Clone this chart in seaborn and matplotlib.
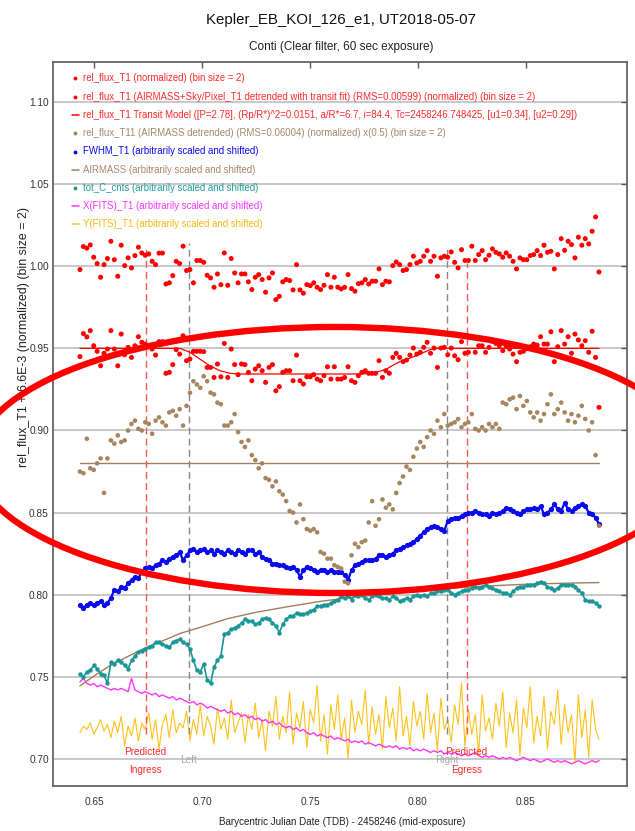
import numpy as np
import matplotlib
matplotlib.use("Agg")
import matplotlib.pyplot as plt
from matplotlib import font_manager
from matplotlib.patches import Ellipse
import seaborn as sns

# ---------------- data ----------------
n_obs = 152
t_obs = np.linspace(0.6435, 0.8838, n_obs)   # binned exposure mid-times (BJD - 2458246)

rel_flux_norm = [
    0.998, 1.012, 1.011,
    1.013, 1.0055, 1.0016, 0.9933, 1.001, 1.0047, 1.0152, 1.004, 0.9939, 1.0128,
    1.0004, 1.0051, 0.999, 1.0065, 1.0116, 1.0081, 1.0067, 1.0075, 1.003, 1.001,
    1.008, 1.008, 0.9892, 0.9899, 0.9943, 1.003, 1.0016, 1.0122, 0.9974, 0.998,
    0.9899, 1.0035, 1.0035, 1.0024, 0.9945, 0.9929, 0.9872, 0.9953, 0.9888, 1.0081,
    0.9884, 1.0047, 0.9959, 0.9899, 0.9953, 0.9953, 0.9905, 0.9858, 0.9933, 0.9949,
    0.9919, 0.9842, 0.9929, 0.9959, 0.9797, 0.9817, 0.9905, 0.9919, 0.9913, 0.9856,
    1.001, 0.9856, 0.9836, 0.9888, 0.9882, 0.9899, 0.9872, 0.9858, 0.9884, 0.9949,
    0.9872, 0.9933, 0.9872, 0.9862, 0.9872, 0.9949, 0.9864, 0.9848, 0.9894, 0.9899,
    0.9919,
    0.9892, 0.9909, 0.9909, 0.9984, 0.9888, 0.9909, 0.9905, 1.0004, 1.0026, 1.001,
    0.9974, 0.998, 1.001, 1.0061, 1.002, 1.003, 1.0061, 1.0095, 1.003, 1.0061,
    0.9939, 1.0051, 1.0061, 1.0055, 1.0087, 1.0024, 0.999, 1.0101, 1.0035, 1.0035,
    1.0122, 1.0035, 1.0071, 1.0095, 1.004, 1.0067, 1.0106, 1.0085, 1.0075, 1.0055,
    1.0081, 1.0061, 1.003, 0.9984, 1.0051, 1.004, 1.004, 1.0065, 1.0071, 1.0095,
    1.0065, 1.0128, 1.0085, 1.0091, 0.9984, 1.0071, 1.0168, 1.0097, 1.0152, 1.0132,
    1.0051, 1.0177, 1.0128, 1.0168, 1.0136, 1.0213, 1.030, 0.9965,
]

rel_flux_detrended = [
    0.945, 0.959, 0.957,
    0.9608, 0.9516, 0.9482, 0.9394, 0.947, 0.9496, 0.9608, 0.9496, 0.9394, 0.9587,
    0.9461, 0.9506, 0.9445, 0.9516, 0.9571, 0.9537, 0.9526, 0.9516, 0.9496, 0.9459,
    0.9541, 0.9541, 0.9348, 0.9354, 0.9401, 0.9492, 0.9465, 0.9577, 0.9425, 0.9435,
    0.9482, 0.9482, 0.9482, 0.948, 0.9384, 0.9384, 0.9323, 0.9405, 0.9327, 0.953,
    0.9323, 0.9496, 0.9401, 0.934, 0.9405, 0.9401, 0.9354, 0.9303, 0.9374, 0.9394,
    0.9364, 0.9293, 0.9384, 0.9401, 0.9242, 0.9267, 0.9354, 0.9364, 0.9364, 0.9303,
    0.9459, 0.9303, 0.9283, 0.9327, 0.9327, 0.934, 0.9313, 0.9303, 0.9334, 0.9388,
    0.9313, 0.9388, 0.9313, 0.9313, 0.9323, 0.9388, 0.9303, 0.9293, 0.9334, 0.9354,
    0.9364,
    0.9348, 0.9348, 0.9348, 0.9425, 0.9323, 0.9364, 0.9348, 0.9445, 0.947, 0.9445,
    0.9419, 0.9429, 0.9459, 0.9502, 0.9465, 0.9476, 0.9506, 0.9537, 0.947, 0.9502,
    0.9384, 0.9502, 0.9506, 0.9461, 0.9502, 0.9455, 0.9431, 0.9541, 0.947, 0.9476,
    0.9567, 0.9476, 0.9516, 0.9516, 0.9476, 0.9506, 0.9543, 0.953, 0.9516, 0.9486,
    0.9516, 0.9496, 0.9465, 0.9419, 0.9476, 0.9482, 0.95, 0.951, 0.9526, 0.952,
    0.9571, 0.9526, 0.9526, 0.9601, 0.9419, 0.951, 0.9608, 0.9526, 0.9571, 0.947,
    0.9587, 0.9551, 0.9516, 0.9547, 0.9476, 0.9604, 0.9445, 0.9141,
]

# transit model (value at model nodes)
t_model = [0.6435, 0.6898, 0.6944, 0.6990, 0.7037, 0.7083, 0.7130, 0.7175,
           0.7731, 0.7793, 0.7854, 0.7885, 0.7916, 0.7962, 0.8009, 0.8055,
           0.8086, 0.8838]
transit_model = [0.9500, 0.9500, 0.9476, 0.9435, 0.9394, 0.9364, 0.9348, 0.9344,
                 0.9344, 0.9348, 0.9374, 0.9398, 0.9419, 0.9440, 0.9465, 0.9492,
                 0.9500, 0.9500]

rel_flux_T11 = [
    0.875, 0.874, 0.895, 0.877, 0.876, 0.880, 0.883, 0.862, 0.883, 0.894,
    0.892, 0.897, 0.893, 0.894, 0.900, 0.904, 0.906, 0.901, 0.900, 0.905,
    0.904, 0.898, 0.906, 0.908, 0.905, 0.903, 0.911, 0.912, 0.909, 0.913,
    0.903, 0.915, 0.923, 0.930, 0.928, 0.926, 0.933, 0.930, 0.923, 0.922,
    0.917, 0.916, 0.903, 0.903, 0.905, 0.910, 0.899, 0.893, 0.890, 0.894,
    0.885, 0.882, 0.877, 0.880, 0.871, 0.870, 0.866, 0.869, 0.863, 0.861,
    0.857, 0.851, 0.850, 0.844, 0.855, 0.846, 0.840, 0.839, 0.840, 0.838,
    0.826, 0.825, 0.822, 0.822, 0.818, 0.817, 0.816, 0.808, 0.807, 0.824,
    0.831, 0.829, 0.832, 0.833, 0.844, 0.857, 0.842, 0.846, 0.858, 0.853,
    0.855, 0.852, 0.862, 0.868, 0.872, 0.878, 0.876, 0.884, 0.889, 0.893,
    0.890, 0.896, 0.900, 0.898, 0.906, 0.902, 0.910, 0.903, 0.904, 0.905,
    0.907, 0.902, 0.904, 0.905, 0.910, 0.901, 0.900, 0.902, 0.900, 0.904,
    0.902, 0.904, 0.901, 0.917, 0.916, 0.919, 0.920, 0.913, 0.921, 0.915,
    0.918, 0.911, 0.908, 0.911, 0.906, 0.910, 0.916, 0.922, 0.910, 0.913,
    0.917, 0.911, 0.906, 0.910, 0.905, 0.909, 0.915, 0.907, 0.900, 0.905,
    0.885, 0.842,
]
t11_baseline = 0.88

fwhm = [
    0.794, 0.792, 0.794, 0.795, 0.794, 0.795, 0.796, 0.794, 0.795, 0.798,
    0.803, 0.802, 0.805, 0.804, 0.807, 0.809, 0.811, 0.810, 0.814, 0.816,
    0.817, 0.816, 0.818, 0.819, 0.821, 0.820, 0.822, 0.823, 0.824, 0.826,
    0.821, 0.824, 0.827, 0.828, 0.826, 0.827, 0.828, 0.826, 0.827, 0.825,
    0.827, 0.826, 0.825, 0.827, 0.826, 0.825, 0.827, 0.826, 0.825, 0.827,
    0.827, 0.825, 0.826, 0.823, 0.822, 0.821, 0.819, 0.819, 0.818, 0.818,
    0.817, 0.816, 0.817, 0.815, 0.811, 0.815, 0.817, 0.816, 0.815, 0.814,
    0.815, 0.815, 0.814, 0.815, 0.814, 0.814, 0.814, 0.812, 0.809, 0.815,
    0.818, 0.819, 0.820, 0.821, 0.821, 0.821, 0.822, 0.824, 0.824, 0.823,
    0.824, 0.825, 0.827, 0.828, 0.829, 0.830, 0.831, 0.832, 0.834, 0.836,
    0.838, 0.840, 0.841, 0.842, 0.841, 0.840, 0.839, 0.845, 0.846, 0.847,
    0.847, 0.848, 0.849, 0.850, 0.850, 0.851, 0.850, 0.849, 0.849, 0.848,
    0.850, 0.849, 0.850, 0.851, 0.853, 0.852, 0.851, 0.850, 0.849, 0.851,
    0.852, 0.852, 0.853, 0.852, 0.854, 0.849, 0.850, 0.852, 0.855, 0.852,
    0.851, 0.856, 0.852, 0.851, 0.853, 0.854, 0.855, 0.854, 0.850, 0.849,
    0.847, 0.843,
]

t_airmass = [0.6435, 0.650, 0.657, 0.665, 0.673, 0.681, 0.690, 0.700, 0.712, 0.725,
             0.740, 0.755, 0.770, 0.790, 0.810, 0.830, 0.850, 0.870, 0.8838]
airmass = [0.7445, 0.7505, 0.7565, 0.7620, 0.7672, 0.7715, 0.7765, 0.7805, 0.7855, 0.7893,
           0.7928, 0.7960, 0.7985, 0.8010, 0.8035, 0.8052, 0.8064, 0.8071, 0.8074]

tot_c_cnts = [
    0.752, 0.750, 0.753, 0.754, 0.757, 0.755, 0.752, 0.751, 0.746, 0.759,
    0.758, 0.760, 0.759, 0.757, 0.755, 0.760, 0.763, 0.765, 0.766, 0.767,
    0.768, 0.769, 0.771, 0.771, 0.770, 0.769, 0.768, 0.771, 0.772, 0.773,
    0.771, 0.770, 0.767, 0.760, 0.754, 0.753, 0.758, 0.748, 0.746, 0.756,
    0.760, 0.763, 0.776, 0.777, 0.779, 0.780, 0.781, 0.783, 0.785, 0.784,
    0.784, 0.782, 0.783, 0.785, 0.786, 0.785, 0.783, 0.781, 0.777, 0.782,
    0.785, 0.787, 0.787, 0.789, 0.788, 0.788, 0.789, 0.790, 0.791, 0.793,
    0.793, 0.794, 0.794, 0.795, 0.796, 0.797, 0.799, 0.798, 0.799, 0.797,
    0.800, 0.799, 0.800, 0.798, 0.797, 0.799, 0.800, 0.799, 0.798, 0.798,
    0.797, 0.799, 0.798, 0.796, 0.797, 0.798, 0.797, 0.799, 0.800, 0.799,
    0.800, 0.799, 0.801, 0.801, 0.802, 0.802, 0.803, 0.803, 0.801, 0.800,
    0.801, 0.802, 0.803, 0.803, 0.804, 0.805, 0.804, 0.805, 0.806, 0.805,
    0.804, 0.803, 0.802, 0.801, 0.801, 0.800, 0.802, 0.804, 0.805, 0.805,
    0.806, 0.806, 0.806, 0.807, 0.808, 0.807, 0.805, 0.804, 0.803, 0.804,
    0.806, 0.806, 0.806, 0.806, 0.805, 0.803, 0.801, 0.797, 0.796, 0.796,
    0.795, 0.793,
]

x_fits = [
    0.747, 0.749, 0.746, 0.745, 0.746, 0.744, 0.745, 0.744, 0.743, 0.742,
    0.743, 0.742, 0.743, 0.742, 0.741, 0.749, 0.742, 0.741, 0.740, 0.741,
    0.740, 0.739, 0.740, 0.738, 0.739, 0.738, 0.737, 0.738, 0.736, 0.737,
    0.736, 0.735, 0.734, 0.735, 0.733, 0.734, 0.733, 0.731, 0.732, 0.731,
    0.730, 0.729, 0.730, 0.728, 0.729, 0.727, 0.728, 0.726, 0.727, 0.725,
    0.726, 0.724, 0.725, 0.723, 0.724, 0.722, 0.723, 0.721, 0.722, 0.720,
    0.719, 0.720, 0.718, 0.719, 0.717, 0.718, 0.716, 0.715, 0.716, 0.714,
    0.715, 0.714, 0.713, 0.714, 0.712, 0.713, 0.712, 0.711, 0.712, 0.710,
    0.711, 0.710, 0.711, 0.709, 0.710, 0.709, 0.708, 0.709, 0.708, 0.707,
    0.708, 0.707, 0.708, 0.706, 0.707, 0.706, 0.707, 0.705, 0.706, 0.705,
    0.706, 0.705, 0.704, 0.705, 0.704, 0.705, 0.703, 0.704, 0.703, 0.704,
    0.703, 0.702, 0.703, 0.702, 0.703, 0.704, 0.702, 0.701, 0.702, 0.701,
    0.702, 0.701, 0.700, 0.701, 0.700, 0.701, 0.700, 0.699, 0.700, 0.701,
    0.700, 0.699, 0.700, 0.699, 0.698, 0.699, 0.700, 0.699, 0.698, 0.699,
    0.698, 0.699, 0.698, 0.697, 0.698, 0.699, 0.698, 0.697, 0.698, 0.699,
    0.698, 0.699,
]

y_fits = [
    0.716, 0.720, 0.718, 0.722, 0.715, 0.719, 0.724, 0.717, 0.721, 0.713,
    0.723, 0.716, 0.726, 0.708, 0.720, 0.714, 0.725, 0.711, 0.722, 0.718,
    0.728, 0.712, 0.724, 0.706, 0.721, 0.727, 0.713, 0.730, 0.716, 0.722,
    0.719, 0.729, 0.711, 0.724, 0.715, 0.733, 0.714, 0.726, 0.720, 0.709,
    0.731, 0.718, 0.725, 0.712, 0.736, 0.716, 0.722, 0.728, 0.710, 0.727,
    0.718, 0.734, 0.713, 0.724, 0.705, 0.729, 0.720, 0.738, 0.712, 0.726,
    0.716, 0.741, 0.709, 0.728, 0.719, 0.735, 0.707, 0.730, 0.722, 0.745,
    0.711, 0.727, 0.703, 0.733, 0.718, 0.739, 0.712, 0.725, 0.700, 0.736,
    0.716, 0.729, 0.721, 0.742, 0.709, 0.732, 0.715, 0.727, 0.706, 0.738,
    0.719, 0.731, 0.711, 0.744, 0.714, 0.726, 0.708, 0.735, 0.720, 0.729,
    0.712, 0.740, 0.716, 0.728, 0.705, 0.737, 0.718, 0.724, 0.710, 0.733,
    0.721, 0.746, 0.708, 0.730, 0.715, 0.727, 0.703, 0.739, 0.717, 0.725,
    0.712, 0.734, 0.720, 0.741, 0.707, 0.728, 0.716, 0.736, 0.702, 0.731,
    0.719, 0.744, 0.710, 0.726, 0.714, 0.738, 0.706, 0.729, 0.721, 0.742,
    0.709, 0.733, 0.716, 0.727, 0.698, 0.739, 0.713, 0.730, 0.701, 0.736,
    0.718, 0.712,
]

# vertical markers
marker_x = [0.6739, 0.6940, 0.8133, 0.8225]
marker_top = [1.013, 1.014, 1.011, 1.002]
marker_kind = ["pred", "obs", "obs", "pred"]

legend_labels = [
    "rel_flux_T1 (normalized) (bin size = 2)",
    "rel_flux_T1 (AIRMASS+Sky/Pixel_T1 detrended with transit fit) (RMS=0.00599) (normalized) (bin size = 2)",
    "rel_flux_T1 Transit Model ([P=2.78], (Rp/R*)^2=0.0151, a/R*=6.7, i=84.4, Tc=2458246.748425, [u1=0.34], [u2=0.29])",
    "rel_flux_T11 (AIRMASS detrended) (RMS=0.06004) (normalized) x(0.5) (bin size = 2)",
    "FWHM_T1 (arbitrarily scaled and shifted)",
    "AIRMASS (arbitrarily scaled and shifted)",
    "tot_C_cnts (arbitrarily scaled and shifted)",
    "X(FITS)_T1 (arbitrarily scaled and shifted)",
    "Y(FITS)_T1 (arbitrarily scaled and shifted)",
]
legend_kind = ["dot", "dot", "line", "dot", "dot", "line", "dot", "line", "line"]

# ---------------- style ----------------
sns.set_style("white")
avail = {f.name for f in font_manager.fontManager.ttflist}
FONT = "Liberation Sans Narrow" if "Liberation Sans Narrow" in avail else "Liberation Sans"
k = 1.22 if FONT.endswith("Narrow") else 1.0
plt.rcParams["font.family"] = [FONT, "DejaVu Sans"]

RED = "#ff0000"
RED_TXT = "#ff2a2a"
BROWN = "#a6855f"
BROWN_LINE = "#a47e5c"
BLUE = "#0a0aee"
TEAL = "#1a9696"
MAGENTA = "#ff33ff"
GOLD = "#ffc21a"
GRID = "#c4c4c4"

W, H = 635, 831
fig = plt.figure(figsize=(W / 100, H / 100), dpi=100)
ax = fig.add_axes([53 / W, 45 / H, 574 / W, 724 / H])
ax.set_xlim(0.63102, 0.89676)
ax.set_ylim(0.68356, 1.12435)

ax.set_yticks([0.70, 0.75, 0.80, 0.85, 0.90, 0.95, 1.00, 1.05, 1.10])
ax.set_xticks([0.65, 0.70, 0.75, 0.80, 0.85])
ax.yaxis.grid(True, color=GRID, linewidth=1.3, zorder=0)
ax.xaxis.grid(False)
ax.set_axisbelow(True)
ax.tick_params(direction="in", length=4, width=1, colors="#555555",
               labelcolor="#333333", labelsize=7.3 * k, top=True, right=True)
ax.tick_params(axis="x", pad=8)
ax.tick_params(axis="y", pad=3)
for s in ax.spines.values():
    s.set_color("#666666")
    s.set_linewidth(1.3)

# ---------------- series ----------------
sns.lineplot(x=t_obs, y=y_fits, color=GOLD, linewidth=0.8, ax=ax, estimator=None, sort=False, zorder=2)
sns.lineplot(x=t_obs, y=x_fits, color=MAGENTA, linewidth=1.0, ax=ax, estimator=None, sort=False, zorder=3)
sns.lineplot(x=t_airmass, y=airmass, color=BROWN_LINE, linewidth=1.0, ax=ax, estimator=None, sort=False, zorder=3)
sns.lineplot(x=t_obs, y=tot_c_cnts, color=TEAL, linewidth=1.2, marker="o", markersize=3.2,
             markeredgewidth=0, ax=ax, estimator=None, sort=False, zorder=4)
sns.lineplot(x=t_obs, y=fwhm, color=BLUE, linewidth=1.6, marker="o", markersize=3.8,
             markeredgewidth=0, ax=ax, estimator=None, sort=False, zorder=4)
sns.lineplot(x=[t_obs[0], t_obs[-1]], y=[t11_baseline, t11_baseline], color=BROWN_LINE,
             linewidth=1.0, ax=ax, estimator=None, zorder=3)
sns.scatterplot(x=t_obs, y=rel_flux_T11, color=BROWN, s=11, edgecolor="none", ax=ax, zorder=5)
sns.lineplot(x=t_model, y=transit_model, color=RED, linewidth=0.9, ax=ax, estimator=None, sort=False, zorder=5)
sns.scatterplot(x=t_obs, y=rel_flux_detrended, color=RED, s=13, edgecolor="none", ax=ax, zorder=6)
sns.scatterplot(x=t_obs, y=rel_flux_norm, color=RED, s=13, edgecolor="none", ax=ax, zorder=6)

for xv, top, kind in zip(marker_x, marker_top, marker_kind):
    col = "#ff5555" if kind == "pred" else "#888888"
    ax.plot([xv, xv], [0.7150, top], color=col, linewidth=1.0, linestyle=(0, (5, 3)), zorder=3)

for xv in (marker_x[0], marker_x[3]):
    ax.text(xv, 0.7043, "Predicted", color=RED_TXT, fontsize=7.2 * k, ha="center", va="center", zorder=7)
ax.text(marker_x[0], 0.6933, "Ingress", color=RED_TXT, fontsize=7.2 * k, ha="center", va="center", zorder=7)
ax.text(marker_x[3], 0.6933, "Egress", color=RED_TXT, fontsize=7.2 * k, ha="center", va="center", zorder=7)
ax.text(marker_x[1], 0.6994, "Left", color="#a8a8a8", fontsize=7.2 * k, ha="center", va="center", zorder=7)
ax.text(marker_x[2], 0.6994, "Right", color="#a8a8a8", fontsize=7.2 * k, ha="center", va="center", zorder=7)

# ---------------- legend (drawn as text rows inside the axes) ----------------
leg_colors = [RED_TXT, RED_TXT, RED_TXT, "#a8876a", BLUE, "#a8876a", "#1f9a9a", "#ff33ff", "#f2b818"]
mark_colors = [RED, RED, RED, BROWN, BLUE, BROWN_LINE, TEAL, MAGENTA, GOLD]
row_y = [78.3, 96.6, 115.0, 133.3, 151.5, 169.6, 187.8, 206.0, 224.2]
for lab, kind, tc, mc, py in zip(legend_labels, legend_kind, leg_colors, mark_colors, row_y):
    yy = (786 - py) / 724
    if kind == "dot":
        ax.plot([(75 - 53) / 574], [yy], marker="o", markersize=2.8, color=mc,
                markeredgewidth=0, transform=ax.transAxes, clip_on=False, zorder=8)
    else:
        ax.plot([(71.5 - 53) / 574, (78.5 - 53) / 574], [yy, yy], color=mc, linewidth=1.1,
                transform=ax.transAxes, clip_on=False, zorder=8)
    ax.text((83 - 53) / 574, yy, lab, color=tc, fontsize=6.9 * k, ha="left", va="center",
            transform=ax.transAxes, zorder=8)

# ---------------- titles and labels ----------------
fig.text(341 / W, 1 - 20 / H, "Kepler_EB_KOI_126_e1, UT2018-05-07", fontsize=10.8 * k,
         ha="center", va="center", color="#111111")
fig.text(341 / W, 1 - 47 / H, "Conti (Clear filter, 60 sec exposure)", fontsize=8.5 * k,
         ha="center", va="center", color="#222222")
fig.text(24 / W, 1 - 337 / H, "rel_flux_T1 + 6.6E-3 (normalized) (bin size = 2)", fontsize=8.9 * k,
         rotation=90, ha="center", va="center", color="#222222")
fig.text(342 / W, 1 - 822 / H, "Barycentric Julian Date (TDB) - 2458246 (mid-exposure)", fontsize=7.1 * k,
         ha="center", va="center", color="#222222")
ax.set_xlabel("")
ax.set_ylabel("")

# ---------------- highlight ellipse ----------------
ell = Ellipse((335 / 100, (H - 460) / 100), 720 / 100, 266 / 100, angle=0,
              transform=fig.dpi_scale_trans, fill=False, edgecolor=RED, linewidth=4.6,
              clip_on=False, zorder=20)
fig.add_artist(ell)

fig.savefig("out.png", dpi=100)
